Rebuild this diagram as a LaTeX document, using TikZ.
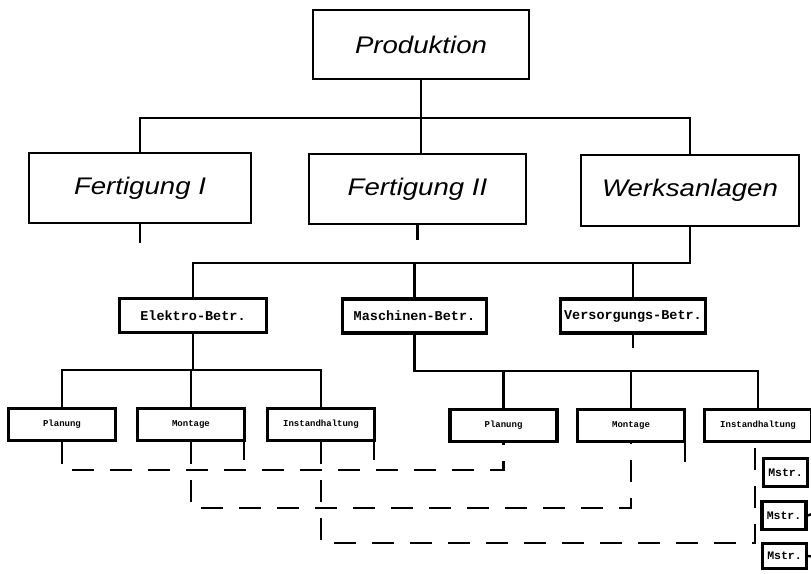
\documentclass[tikz,border=0pt]{standalone}
\usepackage{fontspec}
\newfontfamily\dinfont[FakeStretch=1.15]{Liberation Sans}
\newfontfamily\typfont{Liberation Mono}
\begin{document}
\begin{tikzpicture}[x=1pt,y=-1pt,
  bigbox/.style={draw, line width=2.8pt, inner sep=0pt, font=\dinfont\itshape\fontsize{24}{28}\selectfont},
  midbox/.style={draw, line width=3.2pt, inner sep=0pt, minimum height=34pt, font=\typfont\bfseries\fontsize{13.5}{15}\selectfont},
  smallbox/.style={draw, line width=3.2pt, inner sep=0pt, minimum width=107pt, minimum height=32pt, font=\typfont\bfseries\fontsize{9}{10}\selectfont},
  mstrbox/.style={draw, line width=3.2pt, inner sep=0pt, minimum width=44pt, font=\typfont\bfseries\fontsize{11.5}{13}\selectfont},
  conn/.style={line width=2.4pt},
  dashconn/.style={line width=2.6pt, dash pattern=on 22pt off 16pt}]
\useasboundingbox (0,0) rectangle (811,573);
\fill[white] (0,0) rectangle (811,573);
% level 1
\node[bigbox, minimum width=216pt, minimum height=69pt] (prod) at (421,44.5) {Produktion};
% level 2
\node[bigbox, minimum width=222pt, minimum height=70pt] (f1) at (140,188) {Fertigung I};
\node[bigbox, minimum width=217pt, minimum height=70pt] (f2) at (417.5,189) {Fertigung II};
\node[bigbox, minimum width=218pt, minimum height=71pt] (werk) at (690,190.5) {Werksanlagen};
% level 3
\node[midbox, minimum width=147pt] (elek) at (193,315.5) {Elektro-Betr.};
\node[midbox, minimum width=144pt] (masch) at (414.5,316) {Maschinen-Betr.};
\node[midbox, minimum width=145pt] (vers) at (633,316) {Versorgungs-Betr.};
% level 4
\node[smallbox] (pE) at (62,424.5) {Planung};
\node[smallbox] (mE) at (191,424.5) {Montage};
\node[smallbox] (iE) at (321,424.5) {Instandhaltung};
\node[smallbox] (pM) at (503.5,425.5) {Planung};
\node[smallbox] (mM) at (631,425.5) {Montage};
\node[smallbox] (iM) at (758,425.5) {Instandhaltung};
% Meister
\node[mstrbox, minimum height=28pt] (ms1) at (785.5,472.5) {Mstr.};
\node[mstrbox, minimum height=28pt] (ms2) at (784,515.5) {Mstr.};
\node[mstrbox, minimum height=25pt] (ms3) at (784.5,556) {Mstr.};
% bus coordinates
\coordinate (b1) at (420,118);
\coordinate (b2) at (420,263);
\coordinate (b3) at (193,370);
\coordinate (b4) at (414,371);
\coordinate (d1) at (0,470);
\coordinate (d2) at (0,508);
\coordinate (d3) at (0,543);
\coordinate (f1end) at (140,243);
\coordinate (f2end) at (417.5,240);
\coordinate (versend) at (633,348);
\coordinate (e2) at (815,513);
\coordinate (e3) at (815,557);
% connectors level 1-2
\draw[conn] (prod.south) -- (prod.south |- f2.north);
\draw[conn] (f1.north) |- (werk.north |- b1) -- (werk.north);
\draw[conn] (f1.south) -- (f1end);
\draw[conn] (f2.south) -- (f2end);
% level 2-3
\draw[conn] (werk.south) |- (elek.north |- b2) -- (elek.north);
\draw[conn] (masch.north |- b2) -- (masch.north);
\draw[conn] (vers.north |- b2) -- (vers.north);
\draw[conn] (vers.south) -- (versend);
% level 3-4
\draw[conn] (elek.south) -- (elek.south |- b3);
\draw[conn] (pE.north) |- (iE.north |- b3) -- (iE.north);
\draw[conn] (mE.north |- b3) -- (mE.north);
\draw[conn] (masch.south) |- (iM.north |- b4) -- (iM.north);
\draw[conn] (pM.north |- b4) -- (pM.north);
\draw[conn] (mM.north |- b4) -- (mM.north);
% short stubs below boxes
\draw[conn] ([xshift=-2pt]mE.south east) -- ++(0,18);
\draw[conn] ([xshift=-2pt]iE.south east) -- ++(0,18);
\draw[conn] ([xshift=-1pt]mM.south east) -- ++(0,19);
% dashed cross connections
\draw[dashconn] (pE.south) |- (pM.south |- d1) -- (pM.south);
\draw[dashconn] (mE.south) |- (mM.south |- d2) -- (mM.south);
\draw[dashconn] (iE.south) |- ([xshift=-3pt]iM.south |- d3) -- ([xshift=-3pt]iM.south);
% Meister stubs
\draw[conn] (ms2.east) -- (e2);
\draw[conn] (ms3.east) -- (e3);
\end{tikzpicture}
\end{document}
